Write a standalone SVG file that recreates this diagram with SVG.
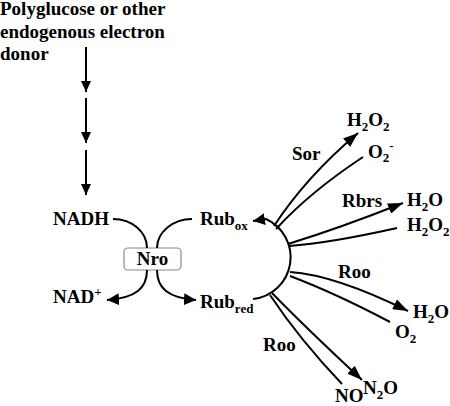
<svg xmlns="http://www.w3.org/2000/svg" width="450" height="406" viewBox="0 0 450 406">
<style>
text{font-family:"Liberation Serif","Times New Roman",serif;font-weight:bold;font-size:19px;fill:#000}
.s{font-size:13px}
.ln{fill:none;stroke:#000;stroke-width:2}
</style>
<defs>
<marker id="ah" viewBox="0 0 11 10" refX="11" refY="5" markerWidth="11" markerHeight="10" markerUnits="userSpaceOnUse" orient="auto-start-reverse"><path d="M0,0L11,5L0,10z" fill="#000"/></marker>
<marker id="ahm" viewBox="0 0 12 12" refX="12" refY="6" markerWidth="12" markerHeight="12" markerUnits="userSpaceOnUse" orient="auto-start-reverse"><path d="M0,0L12,6L0,12z" fill="#000"/></marker>
<marker id="ahb" viewBox="0 0 15 11" refX="15" refY="5.5" markerWidth="15" markerHeight="11" markerUnits="userSpaceOnUse" orient="auto"><path d="M0,0L15,5.5L0,11z" fill="#000"/></marker>
</defs>
<rect width="450" height="406" fill="#fff"/>
<g id="donor">
<text x="0" y="15">Polyglucose or other</text>
<text x="0" y="37.5">endogenous electron</text>
<text x="0" y="60">donor</text>
</g>
<g id="nadh"><text x="53" y="225">NADH</text></g>
<g id="nadplus"><text x="53" y="303">NAD<tspan class="s" dy="-7">+</tspan></text></g>
<g id="rubox"><text x="200" y="225">Rub<tspan class="s" dy="5">ox</tspan></text></g>
<g id="rubred"><text x="200" y="308">Rub<tspan class="s" dy="5">red</tspan></text></g>
<g id="nro">
<rect x="124" y="248" width="57" height="22" rx="4" fill="#fff" stroke="#888" stroke-width="1.2"/>
<text x="152.5" y="265" text-anchor="middle">Nro</text>
</g>
<g id="h2o2-sor"><text x="347" y="126">H<tspan class="s" dy="5">2</tspan><tspan dy="-5">O</tspan><tspan class="s" dy="5">2</tspan></text></g>
<g id="o2minus"><text x="368" y="158">O<tspan class="s" dy="4">2</tspan><tspan class="s" dy="-12">-</tspan></text></g>
<g id="h2o-rbrs"><text x="407" y="206">H<tspan class="s" dy="5">2</tspan><tspan dy="-5">O</tspan></text></g>
<g id="h2o2-rbrs"><text x="407" y="231">H<tspan class="s" dy="5">2</tspan><tspan dy="-5">O</tspan><tspan class="s" dy="5">2</tspan></text></g>
<g id="h2o-roo"><text x="413" y="318">H<tspan class="s" dy="5">2</tspan><tspan dy="-5">O</tspan></text></g>
<g id="o2-roo"><text x="395" y="338">O<tspan class="s" dy="5">2</tspan></text></g>
<g id="n2o"><text x="363" y="394">N<tspan class="s" dy="5">2</tspan><tspan dy="-5">O</tspan></text></g>
<g id="no"><text x="335" y="402">NO</text></g>
<g id="labels">
<text x="292" y="160">Sor</text>
<text x="342" y="207">Rbrs</text>
<text x="338" y="278">Roo</text>
<text x="263" y="351">Roo</text>
</g>
<g id="connectors">
<path class="ln" d="M86,47V92" marker-end="url(#ah)"/>
<path class="ln" d="M86,98V143" marker-end="url(#ah)"/>
<path class="ln" d="M86,150V195" marker-end="url(#ah)"/>
<path class="ln" d="M113,219C132,219 147,232 147,248"/>
<path class="ln" d="M192,219C173,219 157,232 157,248"/>
<path class="ln" d="M147,270C147,288 136,298 107,300" marker-end="url(#ahm)"/>
<path class="ln" d="M157,270C157,288 168,298 196,300" marker-end="url(#ahm)"/>
<path class="ln" d="M253,221L266,219A42,42 0 0 1 253,299" marker-start="url(#ahm)"/>
<path class="ln" d="M274,226Q306,177 358,133" marker-end="url(#ahb)"/>
<path class="ln" d="M276,229Q310,192 363,157"/>
<path class="ln" d="M288,244Q340,228 403,203" marker-end="url(#ahb)"/>
<path class="ln" d="M289,246Q330,243 397,228"/>
<path class="ln" d="M290,272Q335,275 408,311" marker-end="url(#ahb)"/>
<path class="ln" d="M290,276Q335,293 390,322"/>
<path class="ln" d="M272,293Q305,327 362,380" marker-end="url(#ahb)"/>
<path class="ln" d="M270,295Q300,340 342,384"/>
</g>
</svg>
